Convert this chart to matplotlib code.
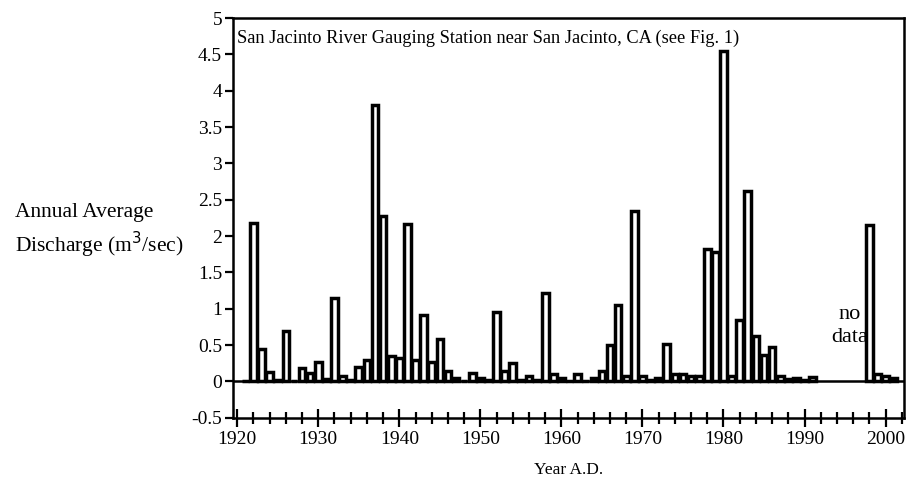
import numpy as np
import matplotlib.pyplot as plt
from matplotlib.ticker import MultipleLocator, FuncFormatter

plt.rcParams['font.family'] = ['Liberation Serif', 'DejaVu Serif']

years = list(range(1921, 2002))

discharge = [
    0.00, 2.18, 0.45, 0.13, 0.02, 0.70, 0.01, 0.19, 0.12, 0.27,   # 1921-1930
    0.03, 1.15, 0.07, 0.02, 0.20, 0.30, 3.80, 2.27, 0.35, 0.32,   # 1931-1940
    2.17, 0.30, 0.92, 0.27, 0.58, 0.15, 0.05, 0.01, 0.12, 0.05,   # 1941-1950
    0.02, 0.95, 0.15, 0.25, 0.02, 0.08, 0.02, 1.22, 0.10, 0.05,   # 1951-1960
    0.01, 0.10, 0.01, 0.05, 0.15, 0.50, 1.05, 0.08, 2.35, 0.07,   # 1961-1970
    0.02, 0.05, 0.52, 0.10, 0.10, 0.08, 0.08, 1.82, 1.78, 4.55,   # 1971-1980
    0.08, 0.85, 2.62, 0.62, 0.37, 0.48, 0.08, 0.04, 0.05, 0.02,   # 1981-1990
    0.06, None, None, None, None, None, None, 2.15, 0.10, 0.08,   # 1991-2000
    0.05,                                                          # 2001
]

x = [y for y, v in zip(years, discharge) if v is not None]
q = [v for v in discharge if v is not None]

fig = plt.figure(figsize=(9.18, 4.87), dpi=100)
ax = fig.add_axes([0.254, 0.142, 0.731, 0.821])

ax.bar(x, q, width=0.82, color='white', edgecolor='black', linewidth=2.5, zorder=3)
ax.axhline(0, color='black', linewidth=1.8, zorder=4)

ax.set_xlim(1919.5, 2002.3)
ax.set_ylim(-0.5, 5)

ax.yaxis.set_major_locator(MultipleLocator(0.5))
ax.yaxis.set_major_formatter(FuncFormatter(lambda v, p: '%g' % v))
ax.xaxis.set_major_locator(MultipleLocator(10))
ax.xaxis.set_minor_locator(MultipleLocator(2))

ax.tick_params(axis='y', direction='out', length=6, width=1.6, labelsize=14, pad=2)
ax.tick_params(axis='x', which='major', direction='inout', length=13, width=1.6,
               labelsize=14, pad=3)
ax.tick_params(axis='x', which='minor', direction='inout', length=9, width=1.6)
for s in ax.spines.values():
    s.set_linewidth(1.8)

ax.text(0.006, 0.97, 'San Jacinto River Gauging Station near San Jacinto, CA (see Fig. 1)',
        transform=ax.transAxes, ha='left', va='top', fontsize=13.2)
ax.text(1995.6, 0.76, 'no\ndata', ha='center', va='center', fontsize=16, linespacing=1.3)

ax.set_xlabel('Year A.D.', fontsize=12.5, labelpad=10)
fig.text(0.016, 0.524, 'Annual Average\nDischarge (m$^3$/sec)', ha='left', va='center',
         fontsize=15.5, linespacing=1.35)

plt.savefig('out.png', dpi=100)
